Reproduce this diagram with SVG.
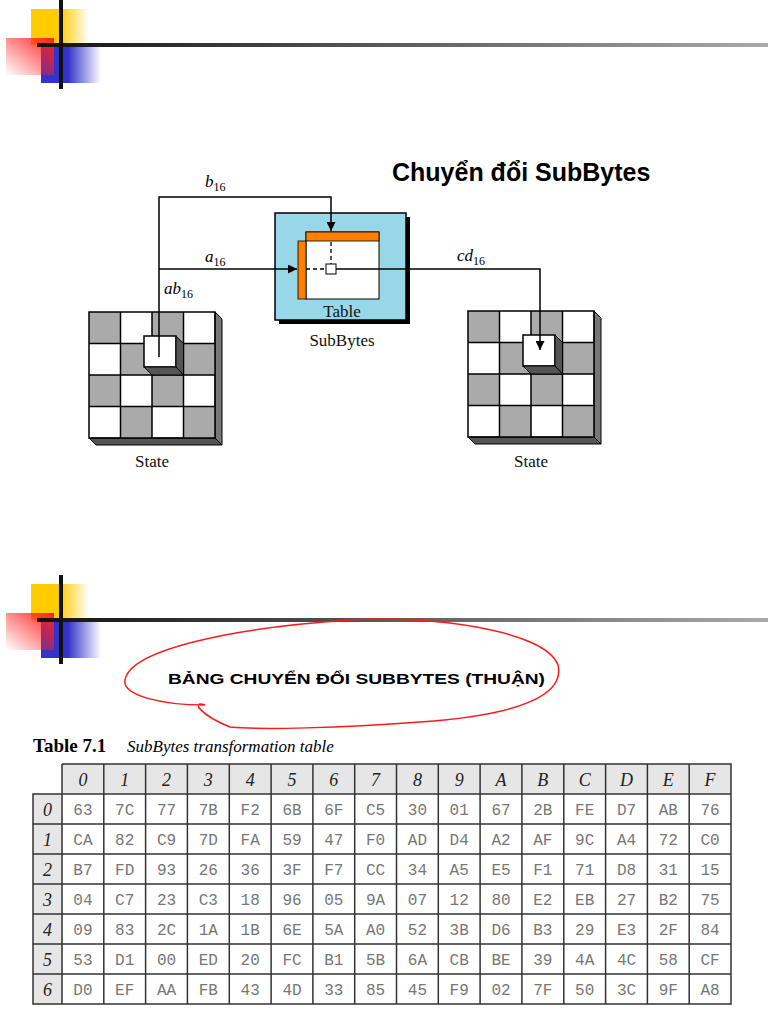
<svg xmlns="http://www.w3.org/2000/svg" width="768" height="1024" viewBox="0 0 768 1024">
<defs>
<linearGradient id="gy" x1="0" x2="1"><stop offset="0.5" stop-color="#ffcc00"/><stop offset="1" stop-color="#ffcc00" stop-opacity="0"/></linearGradient>
<linearGradient id="gr" x1="1" y1="0" x2="0" y2="1"><stop offset="0" stop-color="#ff2020"/><stop offset="1" stop-color="#ff2020" stop-opacity="0"/></linearGradient>
<linearGradient id="gb" x1="0" x2="1"><stop offset="0.45" stop-color="#3333cc"/><stop offset="1" stop-color="#3333cc" stop-opacity="0"/></linearGradient>
<linearGradient id="gl" x1="0" x2="1"><stop offset="0" stop-color="#111"/><stop offset="1" stop-color="#aaa"/></linearGradient>
<marker id="ar" viewBox="0 0 10 10" refX="10" refY="5" markerWidth="9" markerHeight="9" orient="auto" markerUnits="userSpaceOnUse"><path d="M0,0 L10,5 L0,10 z" fill="#000"/></marker>
<g id="logo">
<rect x="31" y="9" width="58" height="36" fill="url(#gy)"/>
<rect x="41" y="45" width="60" height="38" fill="url(#gb)"/>
<rect x="6" y="38" width="48" height="37" fill="url(#gr)"/>
<rect x="37" y="43" width="731" height="4" fill="url(#gl)"/>
<rect x="59" y="0" width="4" height="89" fill="#111"/>
</g>
<g id="grid">
<rect x="0" y="0" width="126" height="126" fill="#fff"/>
<polygon points="126,0 133,7 133,133 126,126" fill="#777" stroke="#000" stroke-width="1"/>
<polygon points="0,126 7,133 133,133 126,126" fill="#555" stroke="#000" stroke-width="1"/>
<g fill="#aaa"><rect x="0" y="0" width="31.5" height="31.5"/><rect x="63" y="0" width="31.5" height="31.5"/><rect x="31.5" y="31.5" width="31.5" height="31.5"/><rect x="94.5" y="31.5" width="31.5" height="31.5"/><rect x="0" y="63" width="31.5" height="31.5"/><rect x="63" y="63" width="31.5" height="31.5"/><rect x="31.5" y="94.5" width="31.5" height="31.5"/><rect x="94.5" y="94.5" width="31.5" height="31.5"/></g>
<g stroke="#000" stroke-width="1.5" fill="none"><rect x="0" y="0" width="126" height="126"/><path d="M31.5,0V126M63,0V126M94.5,0V126M0,31.5H126M0,63H126M0,94.5H126"/></g>
<polygon points="55,24 63,31.5 94.5,31.5 94.5,63 87,55" fill="#444" stroke="#000"/>
<polygon points="55,24 87,24 87,55 55,55" fill="#fff" stroke="#000" stroke-width="1.5"/>
<polygon points="87,24 94.5,31.5 94.5,63 87,55" fill="#555" stroke="#000"/>
<polygon points="55,55 87,55 94.5,63 63,63" fill="#555" stroke="#000"/>
</g>
</defs>
<style>
.tr{font-family:"Liberation Serif",serif;font-size:17px;fill:#111}
.it{font-family:"Liberation Serif",serif;font-style:italic;font-size:17px}
.sub{font-size:12px;font-style:normal}
.mono{font-family:"Liberation Mono",monospace;font-size:16px;fill:#777;text-anchor:middle}
.hd{font-family:"Liberation Serif",serif;font-style:italic;font-size:18px;text-anchor:middle;fill:#222}
.ln{stroke:#000;stroke-width:1.5;fill:none}
</style>
<rect width="768" height="1024" fill="#fff"/>
<use href="#logo"/>
<use href="#logo" y="575"/>
<text x="392" y="181" font-family="Liberation Sans,Arial,sans-serif" font-weight="bold" font-size="25">Chuyển đổi SubBytes</text>

<g id="state-left"><use href="#grid" x="89" y="312"/><text class="tr" x="152" y="467" text-anchor="middle">State</text></g>
<g id="state-right"><use href="#grid" x="468" y="311"/><text class="tr" x="531" y="467" text-anchor="middle">State</text></g>

<g id="subbytes">
<rect x="279" y="217" width="131" height="107" fill="#000"/>
<rect x="275" y="213" width="131" height="107" fill="#97d7e7" stroke="#000" stroke-width="1.5"/>
<rect x="306" y="232" width="73" height="67" fill="#fff" stroke="#000"/>
<rect x="306" y="232" width="73" height="9" fill="#ff7f00" stroke="#000" stroke-width="0.8"/>
<rect x="298" y="241" width="8" height="58" fill="#ff7f00" stroke="#000" stroke-width="0.8"/>
<path d="M331,242V264M306,269H326" stroke="#000" stroke-width="1.3" stroke-dasharray="4,3"/>
<rect x="326" y="264" width="10" height="10" fill="#fff" stroke="#000"/>
<text class="tr" x="342" y="317" text-anchor="middle">Table</text>
<text class="tr" x="342" y="346" text-anchor="middle">SubBytes</text>
</g>

<g id="connectors">
<path class="ln" d="M159,357V197H331V231" marker-end="url(#ar)"/>
<path class="ln" d="M159,269H297" marker-end="url(#ar)"/>
<path class="ln" d="M336,269H540V350" marker-end="url(#ar)"/>
<text class="it" x="205" y="187">b<tspan class="sub" dy="4">16</tspan></text>
<text class="it" x="205" y="262">a<tspan class="sub" dy="4">16</tspan></text>
<text class="it" x="164" y="294">ab<tspan class="sub" dy="4">16</tspan></text>
<text class="it" x="457" y="261">cd<tspan class="sub" dy="4">16</tspan></text>
</g>

<path d="M230,727 C200,715 190,700 205,705 C160,705 122,695 125,680 C130,650 230,628 350,620 C430,615 545,630 558,665 C565,695 520,715 420,722 C340,728 260,730 230,727 Z" fill="none" stroke="#ff1a1a" stroke-width="1.5"/>
<text x="168" y="684" font-family="Liberation Sans,Arial,sans-serif" font-weight="bold" font-size="15" textLength="377" lengthAdjust="spacingAndGlyphs">BẢNG CHUYỂN ĐỔI SUBBYTES (THUẬN)</text>

<text x="33" y="752" font-family="Liberation Serif,serif" font-weight="bold" font-size="19">Table 7.1</text>
<text x="127" y="752" font-family="Liberation Serif,serif" font-style="italic" font-size="17">SubBytes transformation table</text>

<g id="table">
<rect x="62" y="764" width="669" height="30" fill="#e6e6e6"/>
<rect x="33" y="794" width="29" height="210" fill="#e6e6e6"/>
<g stroke="#333" stroke-width="1.5" fill="none">
<path d="M62,764H731V1004H33V794H731"/>
<path d="M62,764V1004M33,824H731M33,854H731M33,884H731M33,914H731M33,944H731M33,974H731"/>
<path d="M103.8,764V1004M145.6,764V1004M187.4,764V1004M229.3,764V1004M271.1,764V1004M312.9,764V1004M354.7,764V1004M396.5,764V1004M438.3,764V1004M480.1,764V1004M521.9,764V1004M563.8,764V1004M605.6,764V1004M647.4,764V1004M689.2,764V1004"/>
</g>
<g class="hd">
<text x="82.9" y="786">0</text><text x="124.7" y="786">1</text><text x="166.5" y="786">2</text><text x="208.3" y="786">3</text><text x="250.2" y="786">4</text><text x="292" y="786">5</text><text x="333.8" y="786">6</text><text x="375.6" y="786">7</text><text x="417.4" y="786">8</text><text x="459.2" y="786">9</text><text x="501" y="786">A</text><text x="542.8" y="786">B</text><text x="584.7" y="786">C</text><text x="626.5" y="786">D</text><text x="668.3" y="786">E</text><text x="710.1" y="786">F</text>
<text x="47.5" y="816">0</text><text x="47.5" y="846">1</text><text x="47.5" y="876">2</text><text x="47.5" y="906">3</text><text x="47.5" y="936">4</text><text x="47.5" y="966">5</text><text x="47.5" y="996">6</text>
</g>
<g class="mono">
<g transform="translate(0,815)"><text x="82.9">63</text><text x="124.7">7C</text><text x="166.5">77</text><text x="208.3">7B</text><text x="250.2">F2</text><text x="292">6B</text><text x="333.8">6F</text><text x="375.6">C5</text><text x="417.4">30</text><text x="459.2">01</text><text x="501">67</text><text x="542.8">2B</text><text x="584.7">FE</text><text x="626.5">D7</text><text x="668.3">AB</text><text x="710.1">76</text></g>
<g transform="translate(0,845)"><text x="82.9">CA</text><text x="124.7">82</text><text x="166.5">C9</text><text x="208.3">7D</text><text x="250.2">FA</text><text x="292">59</text><text x="333.8">47</text><text x="375.6">F0</text><text x="417.4">AD</text><text x="459.2">D4</text><text x="501">A2</text><text x="542.8">AF</text><text x="584.7">9C</text><text x="626.5">A4</text><text x="668.3">72</text><text x="710.1">C0</text></g>
<g transform="translate(0,875)"><text x="82.9">B7</text><text x="124.7">FD</text><text x="166.5">93</text><text x="208.3">26</text><text x="250.2">36</text><text x="292">3F</text><text x="333.8">F7</text><text x="375.6">CC</text><text x="417.4">34</text><text x="459.2">A5</text><text x="501">E5</text><text x="542.8">F1</text><text x="584.7">71</text><text x="626.5">D8</text><text x="668.3">31</text><text x="710.1">15</text></g>
<g transform="translate(0,905)"><text x="82.9">04</text><text x="124.7">C7</text><text x="166.5">23</text><text x="208.3">C3</text><text x="250.2">18</text><text x="292">96</text><text x="333.8">05</text><text x="375.6">9A</text><text x="417.4">07</text><text x="459.2">12</text><text x="501">80</text><text x="542.8">E2</text><text x="584.7">EB</text><text x="626.5">27</text><text x="668.3">B2</text><text x="710.1">75</text></g>
<g transform="translate(0,935)"><text x="82.9">09</text><text x="124.7">83</text><text x="166.5">2C</text><text x="208.3">1A</text><text x="250.2">1B</text><text x="292">6E</text><text x="333.8">5A</text><text x="375.6">A0</text><text x="417.4">52</text><text x="459.2">3B</text><text x="501">D6</text><text x="542.8">B3</text><text x="584.7">29</text><text x="626.5">E3</text><text x="668.3">2F</text><text x="710.1">84</text></g>
<g transform="translate(0,965)"><text x="82.9">53</text><text x="124.7">D1</text><text x="166.5">00</text><text x="208.3">ED</text><text x="250.2">20</text><text x="292">FC</text><text x="333.8">B1</text><text x="375.6">5B</text><text x="417.4">6A</text><text x="459.2">CB</text><text x="501">BE</text><text x="542.8">39</text><text x="584.7">4A</text><text x="626.5">4C</text><text x="668.3">58</text><text x="710.1">CF</text></g>
<g transform="translate(0,995)"><text x="82.9">D0</text><text x="124.7">EF</text><text x="166.5">AA</text><text x="208.3">FB</text><text x="250.2">43</text><text x="292">4D</text><text x="333.8">33</text><text x="375.6">85</text><text x="417.4">45</text><text x="459.2">F9</text><text x="501">02</text><text x="542.8">7F</text><text x="584.7">50</text><text x="626.5">3C</text><text x="668.3">9F</text><text x="710.1">A8</text></g>
</g>
</g>
</svg>
